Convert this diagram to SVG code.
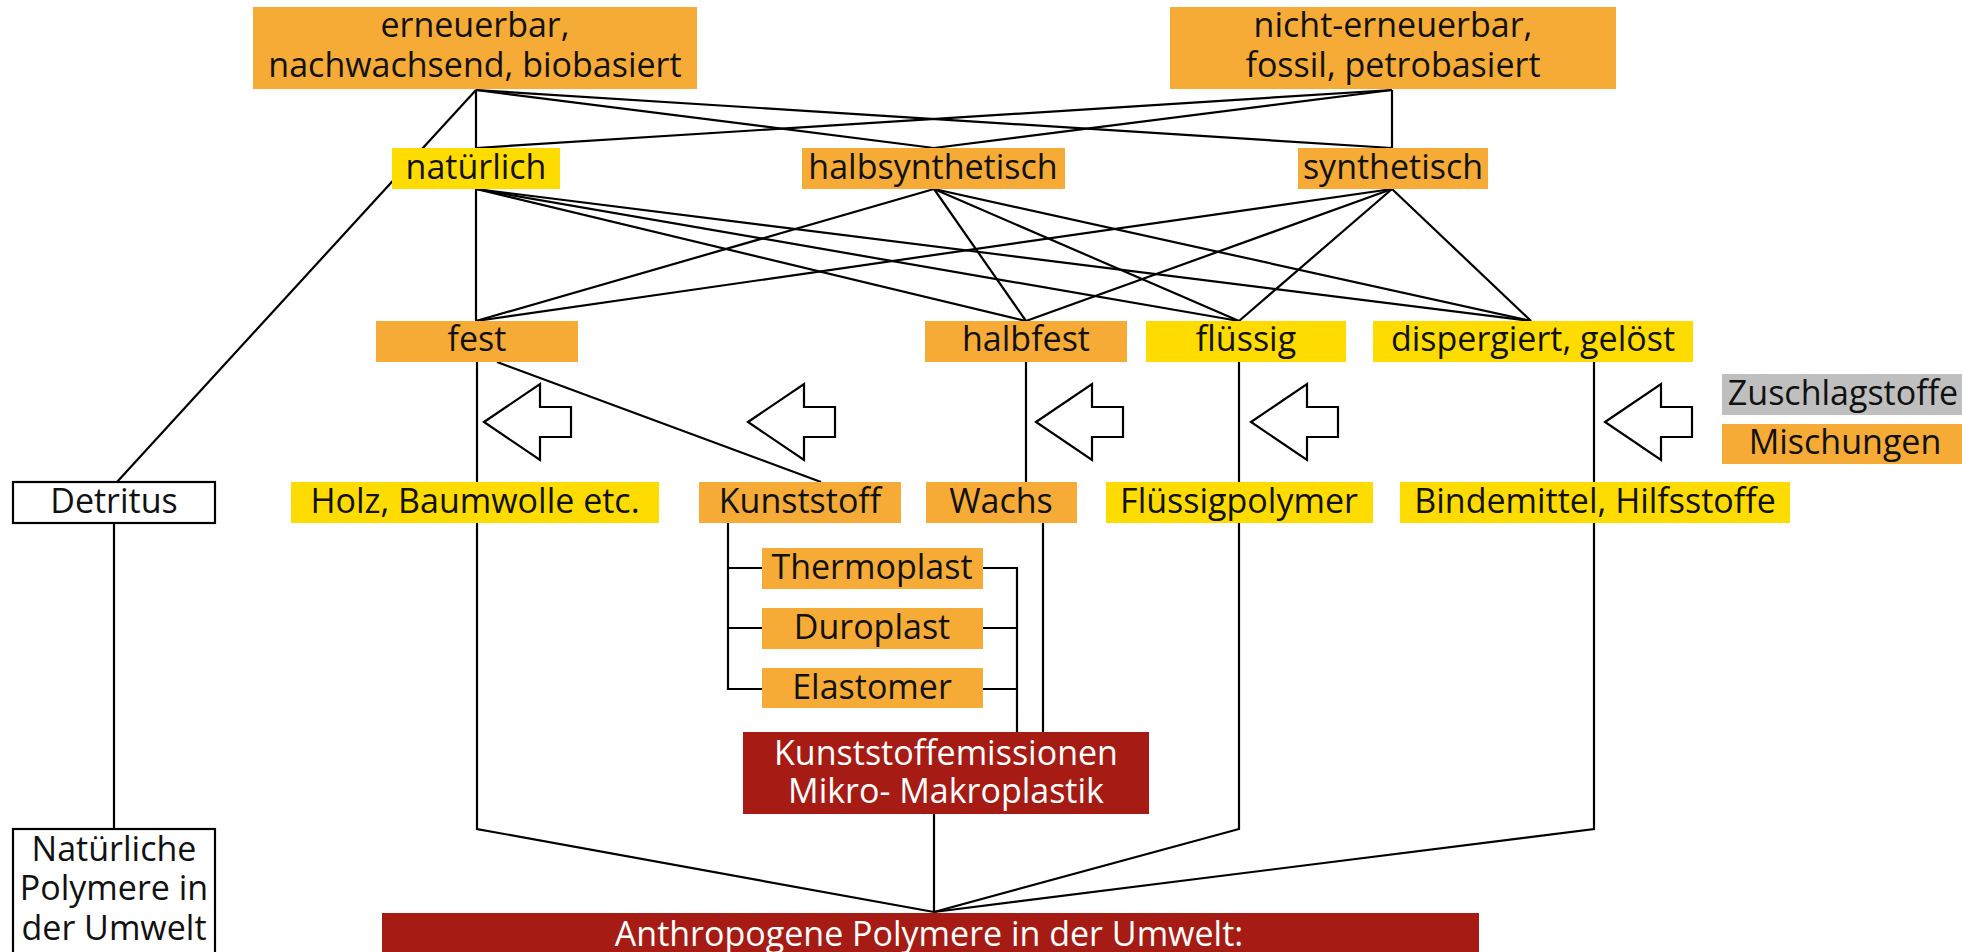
<svg xmlns="http://www.w3.org/2000/svg" width="1962" height="952" viewBox="0 0 1962 952">
<style>
.o{fill:#F5AB35}
.y{fill:#FEDC00}
.r{fill:#A61C14}
.g{fill:#BFBFBF}
.w{fill:#FFFFFF;stroke:#000;stroke-width:2.2}
.t{font-family:"Open Sans","Liberation Sans",sans-serif;font-size:34px;text-anchor:middle;fill:#111}
.tw{font-family:"Open Sans","Liberation Sans",sans-serif;font-size:34px;text-anchor:middle;fill:#FFFFFF}
.c{fill:none;stroke:#000;stroke-width:2.2;stroke-linejoin:miter}
.a{fill:#FFFFFF;stroke:#000;stroke-width:2.2;stroke-linejoin:miter}
</style>
<defs>
<path id="arr" d="M0,0 L56,-38 L56,-15 L87,-15 L87,15 L56,15 L56,38 Z"/>
</defs>
<rect x="0" y="0" width="1962" height="952" fill="#FFFFFF"/>

<g id="connectors" class="c">
<!-- top sources -->
<line x1="476" y1="90" x2="476" y2="148"/>
<line x1="476" y1="90" x2="934" y2="148"/>
<line x1="476" y1="90" x2="1392" y2="148"/>
<line x1="476" y1="90" x2="117" y2="482"/>
<line x1="1392" y1="90" x2="476" y2="148"/>
<line x1="1392" y1="90" x2="934" y2="148"/>
<line x1="1392" y1="90" x2="1392" y2="148"/>
<!-- natuerlich -->
<line x1="476" y1="189" x2="476" y2="321"/>
<line x1="476" y1="189" x2="1026" y2="321"/>
<line x1="476" y1="189" x2="1239" y2="321"/>
<line x1="476" y1="189" x2="1531" y2="321"/>
<!-- halbsynthetisch -->
<line x1="934" y1="189" x2="476" y2="321"/>
<line x1="934" y1="189" x2="1026" y2="321"/>
<line x1="934" y1="189" x2="1239" y2="321"/>
<line x1="934" y1="189" x2="1531" y2="321"/>
<!-- synthetisch -->
<line x1="1392" y1="189" x2="476" y2="321"/>
<line x1="1392" y1="189" x2="1026" y2="321"/>
<line x1="1392" y1="189" x2="1239" y2="321"/>
<line x1="1392" y1="189" x2="1531" y2="321"/>
<!-- level 3 to level 4 -->
<line x1="477" y1="362" x2="477" y2="482"/>
<line x1="497" y1="362" x2="821" y2="482"/>
<line x1="1026" y1="362" x2="1026" y2="482"/>
<line x1="1239" y1="362" x2="1239" y2="482"/>
<line x1="1594" y1="362" x2="1594" y2="482"/>
<!-- to bottom -->
<polyline points="477,523 477,829 934,912"/>
<polyline points="1239,523 1239,829 934,912"/>
<polyline points="1594,523 1594,829 934,912"/>
<line x1="934" y1="814" x2="934" y2="912"/>
<line x1="114" y1="523" x2="114" y2="829"/>
<!-- Kunststoff tree -->
<polyline points="728,523 728,689 762,689"/>
<line x1="728" y1="568" x2="762" y2="568"/>
<line x1="728" y1="628" x2="762" y2="628"/>
<polyline points="983,568 1017,568 1017,732"/>
<line x1="983" y1="628" x2="1017" y2="628"/>
<line x1="983" y1="689" x2="1017" y2="689"/>
<line x1="1043" y1="523" x2="1043" y2="732"/>
</g>

<g id="arrows" class="a">
<use href="#arr" transform="translate(484,422)"/>
<use href="#arr" transform="translate(748,422)"/>
<use href="#arr" transform="translate(1036,422)"/>
<use href="#arr" transform="translate(1251,422)"/>
<use href="#arr" transform="translate(1605,422)"/>
</g>

<g id="n-erneuerbar"><rect class="o" x="253" y="7" width="444" height="82"/><text class="t" x="475" y="37">erneuerbar,</text><text class="t" x="475" y="77">nachwachsend, biobasiert</text></g>
<g id="n-nichterneuerbar"><rect class="o" x="1170" y="7" width="446" height="82"/><text class="t" x="1393" y="37">nicht-erneuerbar,</text><text class="t" x="1393" y="77">fossil, petrobasiert</text></g>

<g id="n-natuerlich"><rect class="y" x="392" y="148" width="168" height="41"/><text class="t" x="476" y="179">natürlich</text></g>
<g id="n-halbsynthetisch"><rect class="o" x="802" y="148" width="263" height="41"/><text class="t" x="933" y="179">halbsynthetisch</text></g>
<g id="n-synthetisch"><rect class="o" x="1298" y="148" width="190" height="41"/><text class="t" x="1393" y="179">synthetisch</text></g>

<g id="n-fest"><rect class="o" x="376" y="321" width="202" height="41"/><text class="t" x="477" y="351">fest</text></g>
<g id="n-halbfest"><rect class="o" x="925" y="321" width="202" height="41"/><text class="t" x="1026" y="351">halbfest</text></g>
<g id="n-fluessig"><rect class="y" x="1146" y="321" width="200" height="41"/><text class="t" x="1246" y="351">flüssig</text></g>
<g id="n-dispergiert"><rect class="y" x="1373" y="321" width="320" height="41"/><text class="t" x="1533" y="351">dispergiert, gelöst</text></g>

<g id="n-zuschlagstoffe"><rect class="g" x="1722" y="374" width="245" height="41"/><text class="t" x="1843" y="405">Zuschlagstoffe</text></g>
<g id="n-mischungen"><rect class="o" x="1722" y="424" width="245" height="40"/><text class="t" x="1845" y="454">Mischungen</text></g>

<g id="n-detritus"><rect class="w" x="13" y="482" width="202" height="41"/><text class="t" x="114" y="513">Detritus</text></g>
<g id="n-holz"><rect class="y" x="291" y="482" width="368" height="41"/><text class="t" x="475" y="513">Holz, Baumwolle etc.</text></g>
<g id="n-kunststoff"><rect class="o" x="699" y="482" width="202" height="41"/><text class="t" x="800" y="513">Kunststoff</text></g>
<g id="n-wachs"><rect class="o" x="926" y="482" width="151" height="41"/><text class="t" x="1001" y="513">Wachs</text></g>
<g id="n-fluessigpolymer"><rect class="y" x="1106" y="482" width="267" height="41"/><text class="t" x="1239" y="513">Flüssigpolymer</text></g>
<g id="n-bindemittel"><rect class="y" x="1400" y="482" width="390" height="41"/><text class="t" x="1595" y="513">Bindemittel, Hilfsstoffe</text></g>

<g id="n-thermoplast"><rect class="o" x="762" y="548" width="221" height="41"/><text class="t" x="872" y="579">Thermoplast</text></g>
<g id="n-duroplast"><rect class="o" x="762" y="608" width="221" height="41"/><text class="t" x="872" y="639">Duroplast</text></g>
<g id="n-elastomer"><rect class="o" x="762" y="668" width="221" height="40"/><text class="t" x="872" y="699">Elastomer</text></g>

<g id="n-emissionen"><rect class="r" x="743" y="732" width="406" height="82"/><text class="tw" x="946" y="765">Kunststoffemissionen</text><text class="tw" x="946" y="803">Mikro- Makroplastik</text></g>

<g id="n-natuerlichepolymere"><rect class="w" x="13" y="829" width="202" height="130"/><text class="t" x="114" y="861">Natürliche</text><text class="t" x="114" y="900">Polymere in</text><text class="t" x="114" y="940">der Umwelt</text></g>

<g id="n-anthropogene"><rect class="r" x="382" y="913" width="1097" height="50"/><text class="tw" x="929" y="946">Anthropogene Polymere in der Umwelt:</text></g>
</svg>
